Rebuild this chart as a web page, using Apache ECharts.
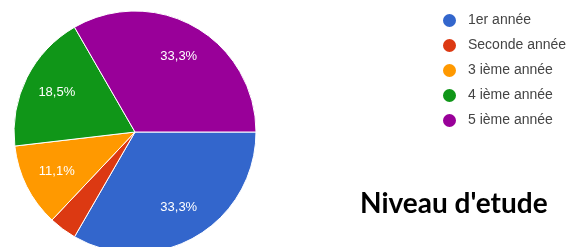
<!DOCTYPE html>
<html>
<head>
<meta charset="utf-8">
<script src="https://cdn.jsdelivr.net/npm/echarts@6/dist/echarts.min.js"></script>
<style>
  html, body { margin: 0; padding: 0; background: #fff; }
  #chart { width: 575px; height: 247px; }
</style>
</head>
<body>
<div id="chart"></div>
<script>
// réponses par niveau d'étude
const categories = ['1er année', 'Seconde année', '3 ième année', '4 ième année', '5 ième année']
const counts = [9, 1, 3, 5, 9]
const colors = ['#3366cc', '#dc3912', '#ff9900', '#109618', '#990099']

const total = counts.reduce((a, b) => a + b, 0)
const pieData = categories.map((name, i) => ({ name: name, value: counts[i] }))

let myChart = echarts.init(document.getElementById('chart'))
const option = {
  animation: false,
  color: colors,
  title: {
    text: "Niveau d'etude",
    left: 355,
    top: 185,
    textStyle: {
      fontFamily: 'Lato',
      fontWeight: 'bold',
      fontSize: 28,
      color: '#000'
    }
  },
  legend: {
    orient: 'vertical',
    left: 436,
    top: 7,
    itemWidth: 15,
    itemHeight: 15,
    itemGap: 8,
    icon: 'circle',
    data: categories,
    textStyle: {
      fontFamily: 'Liberation Sans',
      fontSize: 14,
      color: '#444',
      padding: [0, 0, 0, 6]
    }
  },
  series: [{
    // camembert
    type: 'pie',
    center: [135, 132],
    radius: 121,
    startAngle: 0,
    clockwise: true,
    label: { show: false },
    labelLine: { show: false },
    itemStyle: { borderColor: '#fff', borderWidth: 1 },
    emphasis: { disabled: true },
    data: pieData
  }, {
    // anneau invisible, seulement pour placer les pourcentages à 70% du rayon
    type: 'pie',
    center: [135, 132],
    radius: [48, 121],
    startAngle: 0,
    clockwise: true,
    silent: true,
    legendHoverLink: false,
    itemStyle: { color: 'rgba(0,0,0,0)' },
    emphasis: { disabled: true },
    labelLine: { show: false },
    label: {
      show: true,
      position: 'inside',
      color: '#fff',
      fontFamily: 'Liberation Sans',
      fontSize: 13,
      formatter: p => p.value / total < 0.05 ? '' : (p.value / total * 100).toFixed(1).replace('.', ',') + '%'
    },
    data: pieData.map(d => ({ name: d.name + ' ', value: d.value }))
  }]
}
myChart.setOption(option)
</script>
</body>
</html>
